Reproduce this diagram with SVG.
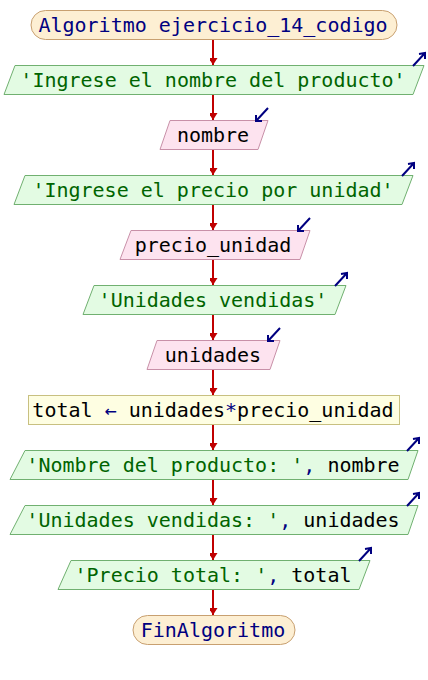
<svg xmlns="http://www.w3.org/2000/svg" width="428" height="680" viewBox="0 0 428 680">
<style>
text{font-family:"DejaVu Sans Mono","Liberation Mono",monospace;font-size:20px;text-anchor:middle;white-space:pre}
.term{fill:#fdefd3;stroke:#c8a070;stroke-width:1}
.out{fill:#e3fbe3;stroke:#70b070;stroke-width:1}
.inp{fill:#fde3ef;stroke:#c890a8;stroke-width:1}
.proc{fill:#fefee2;stroke:#c8c080;stroke-width:1}
.kw{fill:#000080}
.str{fill:#006400}
.var{fill:#000000}
.op{fill:#000080}
.icon{stroke:#000080;stroke-width:2;fill:none}
.conn line{stroke:#c00000;stroke-width:2}
</style>
<defs>
<marker id="ah" markerUnits="userSpaceOnUse" markerWidth="10" markerHeight="8" refX="7" refY="4.5" orient="auto">
<path d="M0,0 L7,4.5 L0,9 Z" fill="#c00000"/>
</marker>
<g id="outIcon"><path class="icon" d="M-12,7 L0,-6 M-6,-5 L0,-6 L0,0"/></g>
<g id="inIcon"><path class="icon" d="M0,-6 L-12,7 M-12,1 L-12,7 L-6,7"/></g>
</defs>
<g id="connectors" class="conn">
<line x1="213" y1="40" x2="213" y2="65" marker-end="url(#ah)"/>
<line x1="213" y1="95" x2="213" y2="120" marker-end="url(#ah)"/>
<line x1="213" y1="150" x2="213" y2="175" marker-end="url(#ah)"/>
<line x1="213" y1="205" x2="213" y2="230" marker-end="url(#ah)"/>
<line x1="213" y1="260" x2="213" y2="285" marker-end="url(#ah)"/>
<line x1="213" y1="315" x2="213" y2="340" marker-end="url(#ah)"/>
<line x1="213" y1="370" x2="213" y2="395" marker-end="url(#ah)"/>
<line x1="213" y1="425" x2="213" y2="450" marker-end="url(#ah)"/>
<line x1="213" y1="480" x2="213" y2="505" marker-end="url(#ah)"/>
<line x1="213" y1="535" x2="213" y2="560" marker-end="url(#ah)"/>
<line x1="213" y1="590" x2="213" y2="615" marker-end="url(#ah)"/>
</g>
<g id="start">
<rect class="term" x="31" y="10.5" width="366" height="29" rx="14.5"/>
<text x="213" y="32"><tspan class="kw">Algoritmo ejercicio_14_codigo</tspan></text>
</g>
<g id="out1">
<polygon class="out" points="15,65.5 424,65.5 413,94.5 4,94.5"/>
<text x="213" y="87"><tspan class="str">'Ingrese el nombre del producto'</tspan></text>
<use href="#outIcon" x="425" y="59"/>
</g>
<g id="in1">
<polygon class="inp" points="170,120.5 268,120.5 258,149.5 160,149.5"/>
<text x="213" y="142"><tspan class="var">nombre</tspan></text>
<use href="#inIcon" x="268" y="114"/>
</g>
<g id="out2">
<polygon class="out" points="25,175.5 413,175.5 402,204.5 14,204.5"/>
<text x="213" y="197"><tspan class="str">'Ingrese el precio por unidad'</tspan></text>
<use href="#outIcon" x="414" y="169"/>
</g>
<g id="in2">
<polygon class="inp" points="131,230.5 310,230.5 300,259.5 120,259.5"/>
<text x="213" y="252"><tspan class="var">precio_unidad</tspan></text>
<use href="#inIcon" x="310" y="224"/>
</g>
<g id="out3">
<polygon class="out" points="94,285.5 346,285.5 335,314.5 83,314.5"/>
<text x="213" y="307"><tspan class="str">'Unidades vendidas'</tspan></text>
<use href="#outIcon" x="347" y="279"/>
</g>
<g id="in3">
<polygon class="inp" points="157,340.5 280,340.5 270,369.5 147,369.5"/>
<text x="213" y="362"><tspan class="var">unidades</tspan></text>
<use href="#inIcon" x="280" y="334"/>
</g>
<g id="proc1">
<rect class="proc" x="28.5" y="395.5" width="371" height="29"/>
<text x="213" y="417"><tspan class="var">total </tspan><tspan class="op">←</tspan><tspan class="var"> unidades</tspan><tspan class="op">*</tspan><tspan class="var">precio_unidad</tspan></text>
</g>
<g id="out4">
<polygon class="out" points="25,450.5 418,450.5 408,479.5 10,479.5"/>
<text x="213" y="472"><tspan class="str">'Nombre del producto: '</tspan><tspan class="op">, </tspan><tspan class="var">nombre</tspan></text>
<use href="#outIcon" x="419" y="444"/>
</g>
<g id="out5">
<polygon class="out" points="25,505.5 418,505.5 408,534.5 10,534.5"/>
<text x="213" y="527"><tspan class="str">'Unidades vendidas: '</tspan><tspan class="op">, </tspan><tspan class="var">unidades</tspan></text>
<use href="#outIcon" x="419" y="499"/>
</g>
<g id="out6">
<polygon class="out" points="71,560.5 370,560.5 359,589.5 58,589.5"/>
<text x="213" y="582"><tspan class="str">'Precio total: '</tspan><tspan class="op">, </tspan><tspan class="var">total</tspan></text>
<use href="#outIcon" x="371" y="554"/>
</g>
<g id="end">
<rect class="term" x="133" y="615.5" width="162" height="29" rx="14.5"/>
<text x="213" y="637"><tspan class="kw">FinAlgoritmo</tspan></text>
</g>
</svg>
